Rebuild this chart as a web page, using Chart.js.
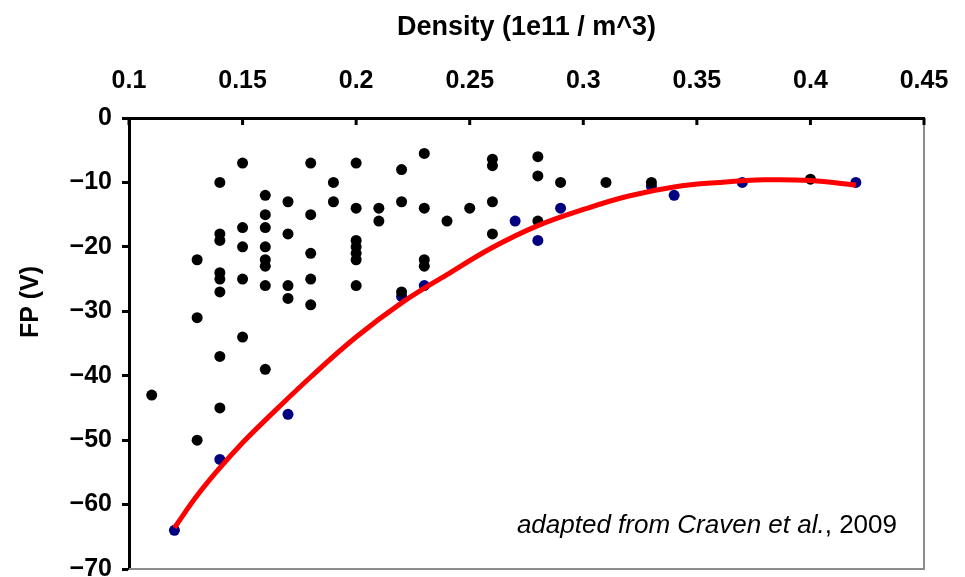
<!DOCTYPE html>
<html>
<head>
<meta charset="utf-8">
<script src="https://cdn.jsdelivr.net/npm/chart.js@4.4.1/dist/chart.umd.min.js"></script>
<style>
  html, body { margin: 0; padding: 0; background: #fff; }
  #wrap { width: 965px; height: 577px; position: relative; }
</style>
</head>
<body>
<div id="wrap"><canvas id="fpChart"></canvas></div>
<script>
// Floating potential vs plasma density (after Craven et al., 2009)

// all measurements (black)
const allDensity = [0.11,
  0.13, 0.13, 0.13,
  0.14, 0.14, 0.14, 0.14, 0.14, 0.14, 0.14, 0.14,
  0.15, 0.15, 0.15, 0.15, 0.15,
  0.16, 0.16, 0.16, 0.16, 0.16, 0.16, 0.16, 0.16,
  0.17, 0.17, 0.17, 0.17,
  0.18, 0.18, 0.18, 0.18, 0.18,
  0.19, 0.19,
  0.20, 0.20, 0.20, 0.20, 0.20, 0.20, 0.20,
  0.21, 0.21,
  0.22, 0.22, 0.22,
  0.23, 0.23, 0.23, 0.23,
  0.24, 0.25,
  0.26, 0.26, 0.26, 0.26,
  0.28, 0.28, 0.28,
  0.29, 0.31, 0.33, 0.40];
const allFP = [-43,
  -22, -31, -50,
  -10, -18, -19, -24, -25, -27, -37, -45,
  -7, -17, -20, -25, -34,
  -12, -15, -17, -20, -22, -23, -26, -39,
  -13, -18, -26, -28,
  -7, -15, -21, -25, -29,
  -10, -13,
  -7, -14, -19, -20, -21, -22, -26,
  -14, -16,
  -8, -13, -27,
  -5.5, -14, -22, -23,
  -16, -14,
  -6.4, -7.4, -13, -18,
  -6, -9, -16,
  -10, -10, -10, -9.5];

// lower envelope points (blue)
const edgeDensity = [0.12, 0.14, 0.17, 0.22, 0.23, 0.27, 0.28, 0.29, 0.33, 0.34, 0.37, 0.42];
const edgeFP = [-64, -53, -46, -27.7, -26, -16, -19, -14, -10.6, -12, -10, -10];

// fitted curve (red)
const curveDensity = [0.12, 0.13, 0.14, 0.15, 0.16, 0.18, 0.20, 0.22, 0.24, 0.26, 0.28, 0.30, 0.32, 0.34, 0.36, 0.38, 0.40, 0.42];
const curveFP = [-63.6, -58.6, -54.3, -50.4, -46.9, -40.2, -34, -28.7, -24.3, -20.1, -16.7, -14.2, -12.1, -10.7, -10, -9.6, -9.7, -10.4];

function pts(xs, ys) {
  return xs.map((x, i) => ({ x: x, y: ys[i] }));
}

const FONT_FAMILY = 'Arial, "Liberation Sans", sans-serif';
const TICK_FONT = { family: FONT_FAMILY, size: 25, weight: 'bold' };

const decorations = {
  id: 'decorations',
  beforeDatasetsDraw(chart) {
    const { ctx, chartArea: a } = chart;
    ctx.save();
    ctx.strokeStyle = '#8c8c8c';
    ctx.lineWidth = 2;
    ctx.beginPath();
    ctx.moveTo(a.left, a.bottom);
    ctx.lineTo(a.right, a.bottom);
    ctx.lineTo(a.right, a.top);
    ctx.stroke();
    ctx.restore();
  },
  afterDraw(chart) {
    const { ctx, chartArea: a } = chart;
    const xs = chart.scales.x;
    ctx.save();
    // x ticks point into the plot
    ctx.strokeStyle = '#000';
    ctx.lineWidth = 3;
    xs.ticks.forEach(t => {
      const px = xs.getPixelForValue(t.value);
      ctx.beginPath();
      ctx.moveTo(px, a.top);
      ctx.lineTo(px, a.top + 7);
      ctx.stroke();
    });

    // y axis title, sits a bit above the middle
    ctx.fillStyle = '#000';
    ctx.font = 'bold 25px ' + FONT_FAMILY;
    ctx.textAlign = 'center';
    ctx.textBaseline = 'middle';
    ctx.translate(31, 302);
    ctx.rotate(-Math.PI / 2);
    ctx.fillText('FP (V)', 0, 0);
    ctx.restore();

    // source note
    ctx.save();
    ctx.fillStyle = '#000';
    ctx.textBaseline = 'alphabetic';
    ctx.textAlign = 'left';
    const part1 = 'adapted from Craven et al.';
    const part2 = ', 2009';
    ctx.font = '26px ' + FONT_FAMILY;
    const w2 = ctx.measureText(part2).width;
    ctx.font = 'italic 26px ' + FONT_FAMILY;
    const w1 = ctx.measureText(part1).width;
    const x0 = a.right - 27 - w1 - w2;
    ctx.fillText(part1, x0, 533);
    ctx.font = '26px ' + FONT_FAMILY;
    ctx.fillText(part2, x0 + w1, 533);
    ctx.restore();
  }
};

new Chart(document.getElementById('fpChart'), {
  type: 'scatter',
  data: {
    datasets: [
      {
        label: 'fit',
        type: 'line',
        data: pts(curveDensity, curveFP),
        borderColor: '#ff0000',
        borderWidth: 5,
        pointRadius: 0,
        tension: 0.4,
        fill: false,
        order: 0
      },
      {
        label: 'all',
        data: pts(allDensity, allFP),
        backgroundColor: '#000',
        borderColor: '#000',
        pointRadius: 5.5,
        borderWidth: 0,
        order: 1
      },
      {
        label: 'edge',
        data: pts(edgeDensity, edgeFP),
        backgroundColor: '#000080',
        borderColor: '#000080',
        pointRadius: 5.5,
        borderWidth: 0,
        order: 2
      }
    ]
  },
  options: {
    responsive: true,
    maintainAspectRatio: false,
    animation: false,
    layout: { padding: { left: 0, top: 0, right: 41, bottom: 8 } },
    plugins: {
      legend: { display: false },
      tooltip: { enabled: false }
    },
    scales: {
      x: {
        type: 'linear',
        position: 'top',
        min: 0.1,
        max: 0.45,
        afterFit(scale) {
          scale.height = 118;
          scale.paddingLeft = 0;
          scale.paddingRight = 0;
        },
        ticks: {
          stepSize: 0.05,
          color: '#000',
          font: TICK_FONT,
          padding: 22,
          maxRotation: 0,
          callback: v => String(+v.toFixed(2))
        },
        grid: { display: true, drawOnChartArea: false, drawTicks: false },
        border: { color: '#000', width: 3 },
        title: {
          display: true,
          text: 'Density (1e11 / m^3)',
          color: '#000',
          font: { family: FONT_FAMILY, size: 27, weight: 'bold' },
          padding: { top: 11, bottom: 0 }
        }
      },
      y: {
        type: 'linear',
        min: -70,
        max: 0,
        afterFit(scale) {
          scale.width = 129;
          scale.paddingTop = 0;
          scale.paddingBottom = 0;
        },
        ticks: {
          stepSize: 10,
          color: '#000',
          font: TICK_FONT,
          padding: 10,
          callback: v => String(v).replace('-', '\u2212')
        },
        grid: { drawOnChartArea: false, drawTicks: true, tickLength: 7, tickWidth: 3, tickColor: '#000' },
        border: { color: '#000', width: 3 }
      }
    }
  },
  plugins: [decorations]
});
</script>
</body>
</html>
